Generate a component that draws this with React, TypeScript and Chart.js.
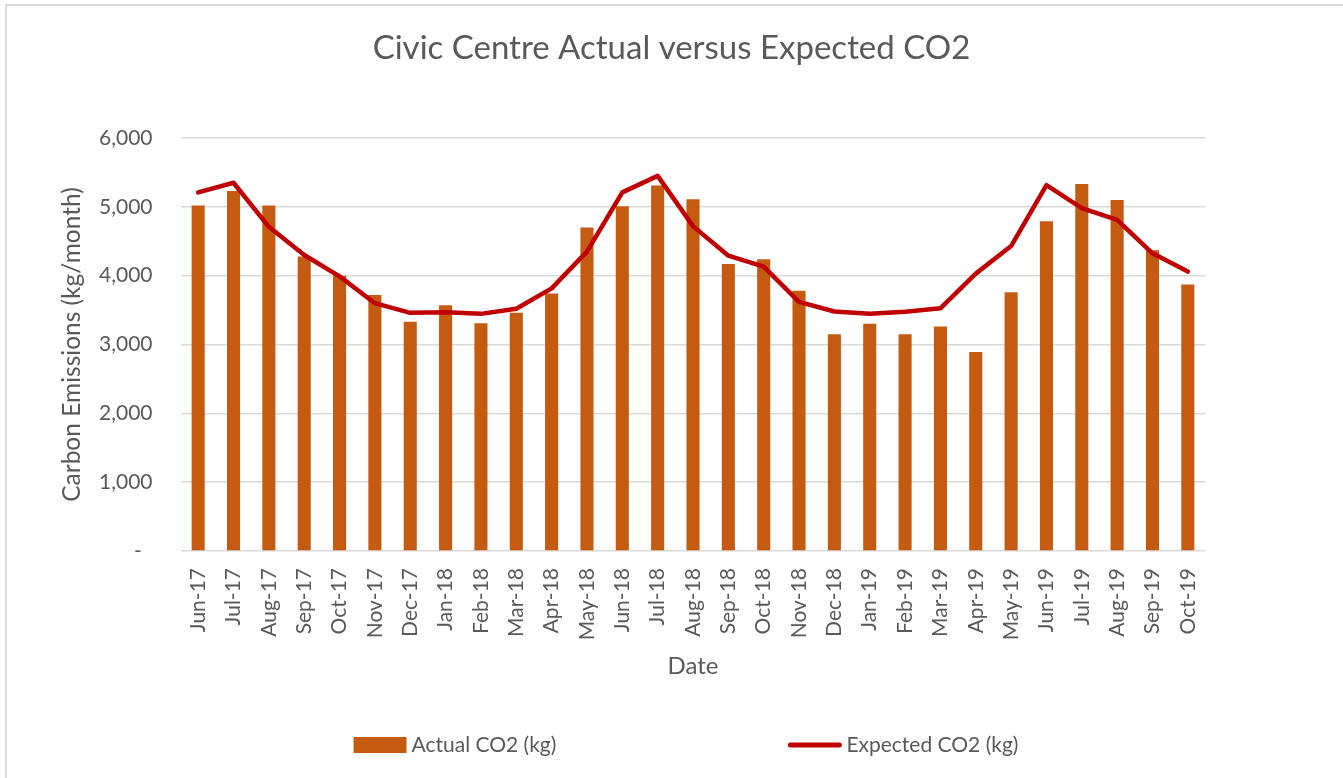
import React, { useEffect, useRef } from 'react';
import { Chart, registerables } from 'chart.js';

Chart.register(...registerables);

const chartTitle = 'Civic Centre Actual versus Expected CO2';
const yAxisTitle = 'Carbon Emissions (kg/month)';
const xAxisTitle = 'Date';

const categories = [
  'Jun-17', 'Jul-17', 'Aug-17', 'Sep-17', 'Oct-17', 'Nov-17', 'Dec-17',
  'Jan-18', 'Feb-18', 'Mar-18', 'Apr-18', 'May-18', 'Jun-18', 'Jul-18',
  'Aug-18', 'Sep-18', 'Oct-18', 'Nov-18', 'Dec-18', 'Jan-19', 'Feb-19',
  'Mar-19', 'Apr-19', 'May-19', 'Jun-19', 'Jul-19', 'Aug-19', 'Sep-19', 'Oct-19',
];

const actualLabel = 'Actual CO2 (kg)';
const actualCO2 = [
  5020, 5230, 5020, 4280, 4000, 3720, 3330,
  3570, 3310, 3460, 3740, 4700, 5010, 5310,
  5110, 4170, 4240, 3780, 3150, 3300, 3150,
  3260, 2890, 3760, 4790, 5330, 5100, 4370, 3870,
];

const expectedLabel = 'Expected CO2 (kg)';
const expectedCO2 = [
  5210, 5350, 4710, 4300, 3990, 3600, 3460,
  3470, 3445, 3520, 3815, 4350, 5210, 5450,
  4720, 4290, 4130, 3620, 3480, 3445, 3475,
  3525, 4030, 4430, 5315, 4980, 4810, 4325, 4060,
];

const yMin = 0;
const yMax = 6000;
const yStep = 1000;

const TEXT = '#595959';
const FONT = 'Lato';

const legendPlugin = {
  id: 'excelLegend',
  afterDraw(chart: any) {
    const ctx = chart.ctx as CanvasRenderingContext2D;
    const ds = chart.data.datasets;
    const size = 21;
    ctx.save();
    ctx.font = `${size}px ${FONT}`;
    ctx.textBaseline = 'middle';
    ctx.textAlign = 'left';
    const y = 745;
    const box = 53;
    const gapText = 5;
    const gapItem = 232;
    const w = ds.map((d: any) => ctx.measureText(d.label).width);
    const total = box + gapText + w[0] + gapItem + box + gapText + w[1];
    const ca = chart.chartArea;
    let x = (ca.left + ca.right) / 2 - total / 2 - 7;
    ds.forEach((d: any, i: number) => {
      if (d.type === 'line') {
        ctx.strokeStyle = d.borderColor;
        ctx.lineWidth = 5;
        ctx.lineCap = 'round';
        ctx.beginPath();
        ctx.moveTo(x + 2, y);
        ctx.lineTo(x + box - 2, y);
        ctx.stroke();
      } else {
        ctx.fillStyle = d.backgroundColor;
        ctx.fillRect(x, y - 8, box, 16);
      }
      x += box + gapText;
      ctx.fillStyle = TEXT;
      ctx.fillText(d.label, x, y);
      x += w[i] + gapItem;
    });
    ctx.restore();
  },
};

export default function App() {
  const ref = useRef<HTMLCanvasElement>(null);

  useEffect(() => {
    if (!ref.current) return;
    Chart.defaults.font.family = FONT;
    const chart = new Chart(ref.current, {
      type: 'bar',
      data: {
        labels: categories,
        datasets: [
          {
            type: 'bar',
            label: actualLabel,
            data: actualCO2,
            backgroundColor: '#C55A11',
            barPercentage: 0.37,
            categoryPercentage: 1,
            order: 1,
            yAxisID: 'y',
          },
          {
            type: 'line',
            label: expectedLabel,
            data: expectedCO2,
            borderColor: '#C00000',
            backgroundColor: '#C00000',
            borderWidth: 4.5,
            pointRadius: 0,
            pointHoverRadius: 0,
            tension: 0,
            borderJoinStyle: 'round',
            borderCapStyle: 'round',
            order: 0,
            yAxisID: 'y',
          },
        ] as any,
      },
      options: {
        responsive: false,
        animation: false,
        layout: { padding: { left: 0, right: 0, top: 0, bottom: 88 } },
        plugins: {
          legend: { display: false },
          tooltip: { enabled: false },
          title: {
            display: true,
            text: chartTitle,
            color: TEXT,
            font: { family: FONT, size: 33, weight: 'normal' },
            padding: { top: 28.2, bottom: 70.2 },
          },
        },
        scales: {
          x: {
            grid: { display: false, drawTicks: false },
            border: { display: false },
            ticks: {
              color: TEXT,
              font: { family: FONT, size: 21 },
              maxRotation: 90,
              minRotation: 90,
              autoSkip: false,
              padding: 17,
            },
            title: {
              display: true,
              text: xAxisTitle,
              color: TEXT,
              font: { family: FONT, size: 24 },
              padding: { top: 0, bottom: 9.6 },
            },
            afterFit: (s: any) => {
              s.height = 139;
            },
          },
          y: {
            min: yMin,
            max: yMax,
            grid: { color: '#d9d9d9', lineWidth: 1.5, drawTicks: false },
            border: { display: false },
            ticks: {
              stepSize: yStep,
              color: TEXT,
              font: { family: FONT, size: 21 },
              padding: 28,
              callback: (v: any) => (Number(v) === 0 ? '-  ' : Number(v).toLocaleString('en-US')),
            },
            title: {
              display: true,
              text: yAxisTitle,
              color: TEXT,
              font: { family: FONT, size: 24.5 },
              padding: { top: 57.3, bottom: 0 },
            },
            afterFit: (s: any) => {
              s.width = 180.5;
            },
          },
          yRightSpace: {
            position: 'right',
            display: true,
            min: yMin,
            max: yMax,
            grid: { display: false, drawTicks: false },
            border: { display: false },
            ticks: { display: false },
            afterFit: (s: any) => {
              s.width = 137.5;
            },
          },
        },
      } as any,
      plugins: [legendPlugin],
    });
    return () => chart.destroy();
  }, []);

  return (
    <div style={{ position: 'fixed', left: 0, top: 0, width: 1343, height: 778, background: '#ffffff', overflow: 'hidden' }}>
      <div
        style={{
          position: 'absolute',
          left: 5,
          top: 4,
          width: 1400,
          height: 900,
          borderLeft: '2px solid #d9d9d9',
          borderTop: '2px solid #d9d9d9',
        }}
      />
      <canvas
        ref={ref}
        width={1343}
        height={778}
        style={{ position: 'absolute', left: 0, top: 0, width: 1343, height: 778 }}
      />
    </div>
  );
}
